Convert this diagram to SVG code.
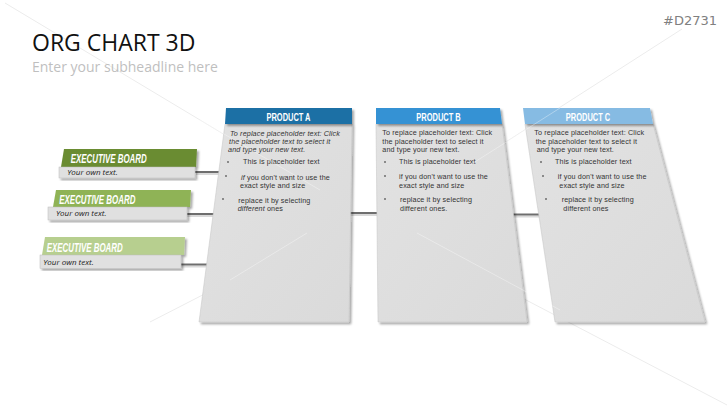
<svg xmlns="http://www.w3.org/2000/svg" width="727" height="409" viewBox="0 0 727 409">
<defs>
<filter id="sh" x="-10%" y="-10%" width="130%" height="130%">
<feDropShadow dx="2" dy="2" stdDeviation="1" flood-color="#000" flood-opacity="0.35"/>
</filter>
<linearGradient id="card" x1="0" y1="0" x2="1" y2="1">
<stop offset="0" stop-color="#e2e2e2"/>
<stop offset="1" stop-color="#dadada"/>
</linearGradient>
</defs>
<style>
.title{font-family:"Open Sans","Liberation Sans",sans-serif;font-size:23px;fill:#111}
.sub{font-family:"Open Sans","Liberation Sans",sans-serif;font-size:14px;fill:#bfbfbf}
.code{font-family:"DejaVu Sans",sans-serif;font-size:13px;fill:#808080}
.star{stroke:#ececec;stroke-width:1;fill:none}
.starw{stroke:#fff;stroke-opacity:0.35;stroke-width:1;fill:none}
.body{fill:url(#card);stroke:#c4c4c4;stroke-width:0.5}
.hdr{font-family:"Liberation Sans",Arial,sans-serif;font-weight:bold;font-size:11.3px;fill:#fff;text-anchor:middle}
.t{font-family:"Liberation Sans",Arial,sans-serif;font-size:7.2px;letter-spacing:0.13px;fill:#333}
.i{font-style:italic}
.bul{fill:#8a8a8a}
.eb{font-family:"Liberation Sans",Arial,sans-serif;font-weight:bold;font-style:italic;font-size:12px;fill:#fff}
.yt{font-family:"Open Sans","Liberation Sans",sans-serif;font-style:italic;font-size:8px;fill:#222}
.ebody{fill:#e0e0e0;stroke:#bdbdbd;stroke-width:0.5}
.conn{stroke:#6e6e6e;stroke-width:2;fill:none}
.connsh{stroke:#000;stroke-opacity:0.15;stroke-width:2;fill:none}
</style>
<rect width="727" height="409" fill="#fff"/>
<g id="background-lines">
<line class="star" x1="5" y1="3" x2="300" y2="180"/>
<line class="star" x1="682" y1="29" x2="470" y2="165"/>
<line class="star" x1="440" y1="255" x2="727" y2="405"/>
<line class="star" x1="150" y1="322" x2="300" y2="245"/>
</g>
<text class="title" x="32" y="50.7">ORG CHART 3D</text>
<text class="sub" x="32" y="71.7">Enter your subheadline here</text>
<text class="code" x="663" y="25">#D2731</text>
<g id="connectors">
<line class="connsh" x1="196" y1="174" x2="221" y2="174"/>
<line class="connsh" x1="187" y1="216" x2="215" y2="216"/>
<line class="connsh" x1="181" y1="266.5" x2="209" y2="266.5"/>
<line class="connsh" x1="349" y1="215" x2="378" y2="215"/>
<line class="connsh" x1="512" y1="216.5" x2="541" y2="216.5"/>
<line class="conn" x1="195" y1="172" x2="221" y2="172"/>
<line class="conn" x1="186" y1="214" x2="215" y2="214"/>
<line class="conn" x1="180" y1="264.5" x2="209" y2="264.5"/>
<line class="conn" x1="348" y1="213" x2="378" y2="213"/>
<line class="conn" x1="511" y1="214.5" x2="541" y2="214.5"/>
</g>
<g id="exec-board-1">
<polygon points="64,149 197,149 196,167 61,167" fill="#6a8c33" filter="url(#sh)"/>
<rect class="ebody" x="59" y="167" width="136" height="11" filter="url(#sh)"/>
<text class="eb" transform="translate(70.7,162.7) scale(0.66,1)">EXECUTIVE BOARD</text>
<text class="yt" x="67.3" y="174.6">Your own text.</text>
</g>
<g id="exec-board-2">
<polygon points="56,190 191,190 190,207 53,207" fill="#8fb356" filter="url(#sh)"/>
<rect class="ebody" x="48" y="207" width="139" height="13" filter="url(#sh)"/>
<text class="eb" transform="translate(59.3,204) scale(0.66,1)">EXECUTIVE BOARD</text>
<text class="yt" x="56" y="216.3">Your own text.</text>
</g>
<g id="exec-board-3">
<polygon points="45,237 185,237 184,255 42,255" fill="#b7cf8f" filter="url(#sh)"/>
<rect class="ebody" x="40" y="255" width="141" height="13.3" filter="url(#sh)"/>
<text class="eb" transform="translate(46.7,251.7) scale(0.66,1)">EXECUTIVE BOARD</text>
<text class="yt" x="43.3" y="264.5">Your own text.</text>
</g>
<g id="product-a">
<polygon class="body" points="225,124 352,124 349,322 199,322" filter="url(#sh)"/>
<polygon points="226,108 352,108 352,124 225,124" fill="#1f6fa5" filter="url(#sh)"/>
<text class="hdr" transform="translate(288.5,120.7) scale(0.66,1)">PRODUCT A</text>
<text class="t i" x="230" y="135.5">To replace placeholder text: Click</text>
<text class="t i" x="229" y="143.8">the placeholder text to select it</text>
<text class="t i" x="228" y="152.1">and type your new text.</text>
<rect class="bul" x="227" y="161" width="2" height="2"/>
<text class="t" x="243" y="164.3">This is placeholder text</text>
<rect class="bul" x="225" y="175" width="2" height="2"/>
<text class="t" x="241" y="179.5"><tspan class="i">if</tspan> you don't want to use the</text>
<text class="t" x="240" y="188.3">exact style and size</text>
<rect class="bul" x="222" y="198" width="2" height="2"/>
<text class="t" x="238.3" y="202.5">replace it by selecting</text>
<text class="t" x="237.7" y="211"><tspan class="i">different</tspan> ones</text>
</g>
<g id="product-b">
<polygon class="body" points="376,124 502,124 527,322 378,322" filter="url(#sh)"/>
<polygon points="376,108 500,108 502,124 376,124" fill="#3592d4" filter="url(#sh)"/>
<text class="hdr" transform="translate(438.5,120.7) scale(0.66,1)">PRODUCT B</text>
<text class="t" x="382.3" y="135.2">To replace placeholder text: Click</text>
<text class="t" x="382.3" y="143.5">the placeholder text to select it</text>
<text class="t" x="382.3" y="151.8">and type your new text.</text>
<rect class="bul" x="384" y="161" width="2" height="2"/>
<text class="t" x="399" y="164.3">This is placeholder text</text>
<rect class="bul" x="384" y="175" width="2" height="2"/>
<text class="t" x="399" y="179.3">if you don't want to use the</text>
<text class="t" x="399" y="188">exact style and size</text>
<rect class="bul" x="384" y="198" width="2" height="2"/>
<text class="t" x="400" y="202.3">replace it by selecting</text>
<text class="t" x="400" y="211">different ones.</text>
</g>
<g id="product-c">
<polygon class="body" points="525,124 653,124 705,322 555,322" filter="url(#sh)"/>
<polygon points="523,108 650,108 653,124 525,124" fill="#86bbe3" filter="url(#sh)"/>
<text class="hdr" transform="translate(588,120.7) scale(0.66,1)">PRODUCT C</text>
<text class="t" x="534.3" y="135.2">To replace placeholder text: Click</text>
<text class="t" x="535.7" y="143.5">the placeholder text to select it</text>
<text class="t" x="536.7" y="151.8">and type your new text.</text>
<rect class="bul" x="540" y="161" width="2" height="2"/>
<text class="t" x="555" y="164.3">This is placeholder text</text>
<rect class="bul" x="542" y="175" width="2" height="2"/>
<text class="t" x="557.7" y="179.3">if you don't want to use the</text>
<text class="t" x="559.3" y="188">exact style and size</text>
<rect class="bul" x="545" y="198" width="2" height="2"/>
<text class="t" x="561.7" y="202.3">replace it by selecting</text>
<text class="t" x="563.3" y="211">different ones</text>
</g>
<g id="overlay-lines">
<line class="starw" x1="200" y1="120" x2="320" y2="190"/>
<line class="starw" x1="230" y1="280" x2="307" y2="233"/>
<line class="starw" x1="417" y1="233" x2="560" y2="310"/>
<line class="starw" x1="470" y1="165" x2="560" y2="108"/>
</g>
</svg>
